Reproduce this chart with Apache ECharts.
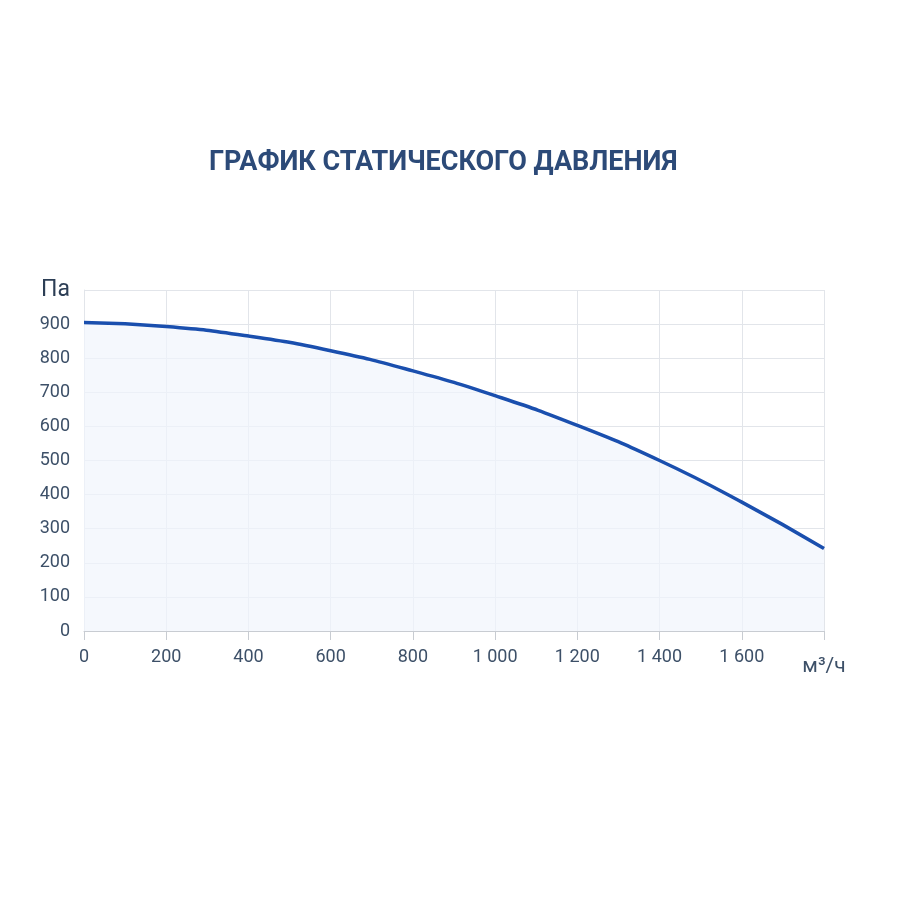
<!DOCTYPE html>
<html lang="ru">
<head>
    <meta charset="UTF-8">
    <title>График статического давления</title>
    <style>
        html, body { margin: 0; padding: 0; background: #fff; }
        #main { width: 900px; height: 900px; }
    </style>
</head>
<body>
<div id="main"></div>
<script src="https://cdn.jsdelivr.net/npm/echarts@6/dist/echarts.min.js"></script>
<script>
    // расход воздуха, м³/ч
    var flow = [0, 200, 400, 600, 800, 1000, 1200, 1400, 1600, 1800];
    // статическое давление, Па
    var pressure = [905, 893, 865, 822, 763, 690, 603, 500, 378, 242];
    var xUnit = 'м³/ч';
    var yUnit = 'Па';

    function fmt(v) {
        return String(v).replace(/\B(?=(\d{3})+(?!\d))/g, ' ');
    }

    var chart = echarts.init(document.getElementById('main'));
    chart.setOption({
        animation: false,
        textStyle: {fontFamily: 'Roboto'},
        title: {
            text: 'ГРАФИК СТАТИЧЕСКОГО ДАВЛЕНИЯ',
            left: 204,
            top: 145,
            textStyle: {color: '#2c4a78', fontSize: 27, fontWeight: 'bold', fontFamily: 'Roboto'}
        },
        grid: {left: 84, right: 76, top: 290, bottom: 269, containLabel: false},
        xAxis: {
            type: 'value',
            min: 0,
            max: 1800,
            interval: 200,
            axisLine: {lineStyle: {color: '#c8ccd2'}},
            axisTick: {show: true, length: 9, lineStyle: {color: '#c8ccd2'}},
            splitLine: {show: true, lineStyle: {color: '#e2e5ea'}},
            axisLabel: {
                color: '#3d5068',
                fontSize: 18,
                margin: 17,
                formatter: function (v) {
                    return v === 1800 ? '{u|' + xUnit + '}' : fmt(v);
                },
                rich: {u: {fontSize: 21, color: '#3d5068', padding: [8, 0, 0, 0]}}
            }
        },
        yAxis: {
            type: 'value',
            min: 0,
            max: 1000,
            interval: 100,
            axisLine: {show: true, lineStyle: {color: '#e2e5ea'}},
            axisTick: {show: false},
            splitLine: {show: true, lineStyle: {color: '#e2e5ea'}},
            axisLabel: {
                color: '#3d5068',
                fontSize: 18,
                margin: 14,
                formatter: function (v) {
                    return v === 1000 ? '{u|' + yUnit + '}' : fmt(v);
                },
                rich: {u: {fontSize: 23, color: '#2c3e55'}}
            }
        },
        series: [{
            type: 'line',
            smooth: 0.5,
            symbol: 'none',
            data: flow.map(function (f, i) { return [f, pressure[i]]; }),
            lineStyle: {color: '#1a4fae', width: 3.5},
            areaStyle: {color: '#f1f5fc'}
        }]
    });
</script>
</body>
</html>
